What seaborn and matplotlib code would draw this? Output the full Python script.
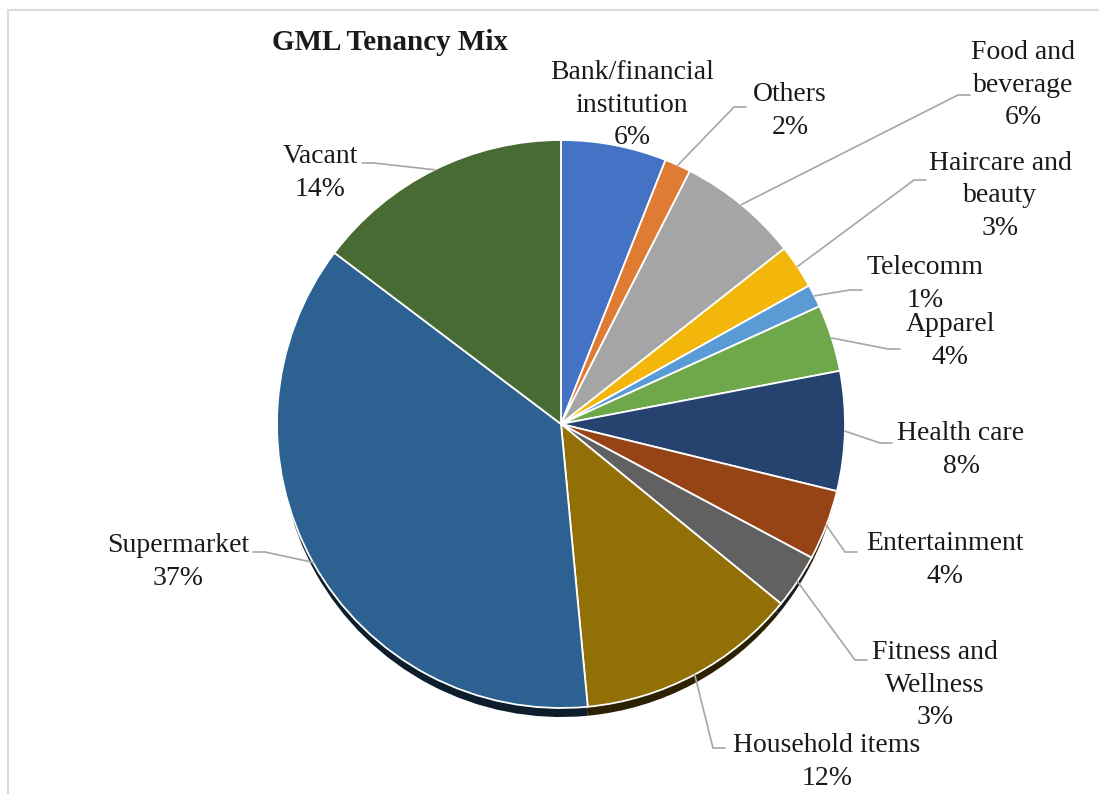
import numpy as np
import matplotlib
matplotlib.use("Agg")
import matplotlib.pyplot as plt
from matplotlib.colors import to_rgb
from matplotlib.patches import Rectangle
import seaborn as sns

# --- data ---
categories = ["Bank/financial\ninstitution", "Others", "Food and\nbeverage",
              "Haircare and\nbeauty", "Telecomm", "Apparel", "Health care",
              "Entertainment", "Fitness and\nWellness", "Household items",
              "Supermarket", "Vacant"]
shares = [6.0, 1.5, 6.9, 2.5, 1.3, 3.8, 6.8, 4.0, 3.1, 12.6, 36.8, 14.7]
pct_labels = ["6%", "2%", "6%", "3%", "1%", "4%", "8%", "4%", "3%", "12%", "37%", "14%"]

colors = ["#4472C4", "#E07B33", "#A5A5A5", "#F2B70A", "#5B9BD5", "#6EA84A",
          "#26426F", "#964415", "#616161", "#936F08", "#2C6192", "#476B32"]

# --- layout (pixels, y down) ---
W, H = 1099, 794
CX, CY, R = 561, 424, 284
label_pos = [(632, 105), (790, 111), (1023, 85), (1000, 196), (925, 284),
             (950, 341), (961, 450), (945, 560), (935, 685), (827, 762),
             (178, 562), (320, 173)]
# where the leader line reaches the label (None = no leader)
leader_end = [None, (746, 107), (970, 95), (926, 180), (862, 290),
              (900, 349), (892, 443), (857, 552), (867, 660), (725, 748),
              (253, 552), (362, 163)]

sns.set_theme(style="white")
plt.rcParams["font.family"] = ["Liberation Serif", "DejaVu Serif"]

fig = plt.figure(figsize=(W / 100, H / 100), dpi=100)
ax = fig.add_axes([0, 0, 1, 1])

# light chart border (cropped at right and bottom)
fig.patches.append(Rectangle((8 / W, -0.05), 1.2, 1.05 - 10 / H, transform=fig.transFigure,
                             fill=False, edgecolor="#D9D9D9", linewidth=1.5))

# shadow under the pie, only shows along the bottom rim
shadow_cols = [tuple(c * 0.3 for c in to_rgb(col)) for col in colors]
ax.pie(shares, colors=shadow_cols, startangle=-90, counterclock=True,
       center=(CX, CY + 12), radius=R - 3, wedgeprops=dict(linewidth=0))

wedges, _ = ax.pie(shares, colors=colors, startangle=-90, counterclock=True,
                   center=(CX, CY), radius=R,
                   wedgeprops=dict(edgecolor="white", linewidth=1.3))

ax.set_xlim(0, W)
ax.set_ylim(H, 0)
ax.set_aspect("equal")
ax.axis("off")

for w, name, pct, pos, end in zip(wedges, categories, pct_labels, label_pos, leader_end):
    ax.text(pos[0], pos[1], f"{name}\n{pct}", ha="center", va="center",
            multialignment="center", fontsize=20, color="#1a1a1a", linespacing=1.42)
    if end is None:
        continue
    mid = np.deg2rad((w.theta1 + w.theta2) / 2)
    sx, sy = CX + R * np.cos(mid), CY + R * np.sin(mid)
    side = 1 if end[0] > CX else -1
    ex, ey = end[0] - 12 * side, end[1]
    ax.plot([sx, ex, end[0]], [sy, ey, end[1]], color="#A6A6A6", lw=1.2,
            solid_joinstyle="miter")

ax.text(390, 42, "GML Tenancy Mix", ha="center", va="center", fontsize=21,
        fontweight="bold", color="#1a1a1a")

fig.savefig("out.png", dpi=100)
